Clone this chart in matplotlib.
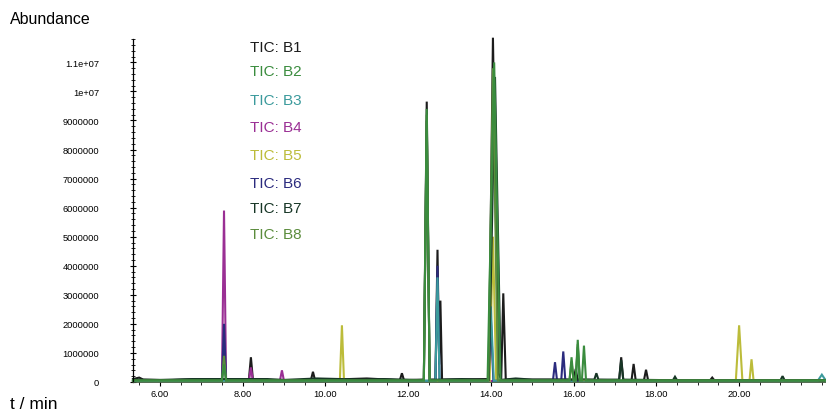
import matplotlib
matplotlib.use("Agg")
import matplotlib.pyplot as plt
from matplotlib.ticker import MultipleLocator, FixedLocator
import numpy as np

plt.rcParams['font.family'] = ['Liberation Sans', 'DejaVu Sans']

# retention time (min) / abundance for each TIC trace
b1_t = [5.35, 5.5, 5.6, 6.2, 7.0, 7.5, 7.55, 7.6, 8.15, 8.2, 8.25, 9.65, 9.7, 9.75, 11.0, 11.8, 11.85, 11.9,
        12.38, 12.45, 12.52, 12.66, 12.71, 12.75, 12.78, 12.82, 13.95, 14.05, 14.18, 14.25, 14.3, 14.36,
        15.0, 16.0, 16.05, 16.1, 17.1, 17.15, 17.2, 17.4, 17.45, 17.5, 17.7, 17.75, 17.8, 19.3, 19.35, 19.4, 22.1]
b1_y = [0.1e6, 0.15e6, 0.08e6, 0.06e6, 0.1e6, 0.08e6, 1.2e6, 0.08e6, 0.06e6, 0.85e6, 0.06e6, 0.06e6, 0.35e6, 0.06e6,
        0.12e6, 0.06e6, 0.3e6, 0.06e6,
        0.08e6, 9.65e6, 0.08e6, 0.08e6, 4.55e6, 0.6e6, 2.8e6, 0.08e6, 0.1e6, 11.85e6, 0.3e6, 0.1e6, 3.05e6, 0.08e6,
        0.08e6, 0.08e6, 0.45e6, 0.08e6, 0.06e6, 0.85e6, 0.06e6, 0.06e6, 0.62e6, 0.06e6, 0.06e6, 0.42e6, 0.06e6,
        0.06e6, 0.15e6, 0.06e6, 0.06e6]

b2_t = [5.35, 7.5, 7.55, 7.6, 12.38, 12.45, 12.52, 13.92, 14.08, 14.23, 15.9, 15.95, 16.0, 16.05, 16.1, 16.15,
        16.2, 16.25, 16.3, 22.1]
b2_y = [0.05e6, 0.05e6, 0.6e6, 0.05e6, 0.05e6, 9.4e6, 0.05e6, 0.05e6, 11.0e6, 0.05e6, 0.05e6, 0.85e6, 0.05e6,
        0.05e6, 1.45e6, 0.05e6, 0.05e6, 1.25e6, 0.05e6, 0.05e6]

b3_t = [5.35, 12.66, 12.71, 12.76, 13.93, 14.0, 14.07, 16.05, 16.1, 16.15, 21.9, 22.0, 22.1]
b3_y = [0.04e6, 0.04e6, 3.6e6, 0.04e6, 0.04e6, 2.6e6, 0.04e6, 0.04e6, 1.2e6, 0.04e6, 0.04e6, 0.25e6, 0.04e6]

b4_t = [5.35, 7.5, 7.55, 7.6, 8.15, 8.2, 8.25, 8.9, 8.95, 9.0, 22.1]
b4_y = [0.03e6, 0.03e6, 5.9e6, 0.03e6, 0.03e6, 0.5e6, 0.03e6, 0.03e6, 0.4e6, 0.03e6, 0.03e6]

b5_t = [5.35, 10.35, 10.4, 10.45, 13.97, 14.05, 14.13, 19.92, 20.0, 20.08, 20.25, 20.3, 20.35, 22.1]
b5_y = [0.03e6, 0.03e6, 1.95e6, 0.03e6, 0.03e6, 5.0e6, 0.03e6, 0.03e6, 1.95e6, 0.03e6, 0.03e6, 0.78e6,
        0.03e6, 0.03e6]

b6_t = [5.35, 7.5, 7.55, 7.6, 12.66, 12.71, 12.76, 13.94, 14.0, 14.06, 15.5, 15.55, 15.6, 15.7, 15.75, 15.8, 22.1]
b6_y = [0.04e6, 0.04e6, 2.0e6, 0.04e6, 0.04e6, 4.0e6, 0.04e6, 0.04e6, 2.2e6, 0.04e6, 0.04e6, 0.68e6, 0.04e6,
        0.04e6, 1.05e6, 0.04e6, 0.04e6]

b7_t = [5.35, 6.0, 6.8, 8.6, 9.0, 9.8, 10.9, 11.4, 12.2, 12.38, 12.45, 12.52, 13.3, 13.95, 14.1, 14.24,
        14.6, 15.0, 16.5, 16.55, 16.6, 17.1, 17.15, 17.2, 18.4, 18.45, 18.5, 21.0, 21.05, 21.1, 22.1]
b7_y = [0.08e6, 0.07e6, 0.1e6, 0.1e6, 0.07e6, 0.12e6, 0.08e6, 0.1e6, 0.07e6, 0.07e6, 9.0e6, 0.07e6, 0.1e6,
        0.07e6, 10.5e6, 0.07e6, 0.12e6, 0.08e6, 0.08e6, 0.3e6, 0.08e6, 0.08e6, 0.75e6, 0.08e6, 0.06e6,
        0.18e6, 0.06e6, 0.06e6, 0.2e6, 0.06e6, 0.06e6]

b8_t = [5.35, 7.5, 7.55, 7.6, 12.38, 12.45, 12.52, 13.94, 14.05, 14.17, 15.9, 15.95, 16.0, 16.05, 16.1,
        16.15, 22.1]
b8_y = [0.05e6, 0.05e6, 0.9e6, 0.05e6, 0.05e6, 9.2e6, 0.05e6, 0.05e6, 10.8e6, 0.05e6, 0.05e6, 0.7e6,
        0.05e6, 0.05e6, 1.3e6, 0.05e6, 0.05e6]

names = ['TIC: B1', 'TIC: B2', 'TIC: B3', 'TIC: B4', 'TIC: B5', 'TIC: B6', 'TIC: B7', 'TIC: B8']
colors = ['#1c1c1c', '#3a8c3e', '#3b9a9c', '#9a2f94', '#bcbc3a', '#2b2b7e', '#173626', '#5b8c3c']
traces = [(b1_t, b1_y), (b2_t, b2_y), (b3_t, b3_y), (b4_t, b4_y),
          (b5_t, b5_y), (b6_t, b6_y), (b7_t, b7_y), (b8_t, b8_y)]

y_ticks = [0, 1e6, 2e6, 3e6, 4e6, 5e6, 6e6, 7e6, 8e6, 9e6, 1e7, 1.1e7]
y_labels = ['0', '1000000', '2000000', '3000000', '4000000', '5000000', '6000000', '7000000',
            '8000000', '9000000', '1e+07', '1.1e+07']
x_ticks = [6, 8, 10, 12, 14, 16, 18, 20]

fig = plt.figure(figsize=(8.26, 4.14), dpi=100)
ax = fig.add_axes([0.161, 0.075, 0.839, 0.828])

order = [0, 3, 4, 5, 2, 6, 7, 1]
for i in order:
    t, y = traces[i]
    ax.plot(t, y, color=colors[i], lw=1.5, solid_joinstyle='miter', clip_on=False)

ax.set_xlim(5.35, 22.1)
ax.set_ylim(0, 11.8e6)

ax.yaxis.set_major_locator(FixedLocator(y_ticks))
ax.set_yticklabels(y_labels)
ax.yaxis.set_minor_locator(MultipleLocator(2e5))
ax.xaxis.set_major_locator(FixedLocator(x_ticks))
ax.set_xticklabels(['%.2f' % v for v in x_ticks])
ax.xaxis.set_minor_locator(MultipleLocator(0.5))

ax.tick_params(axis='y', which='major', direction='inout', length=5, width=0.8, pad=22, labelsize=6.7)
ax.tick_params(axis='y', which='minor', direction='inout', length=3, width=0.6)
ax.tick_params(axis='x', which='major', direction='out', length=3, width=0.8, pad=2, labelsize=6.7)
ax.tick_params(axis='x', which='minor', direction='out', length=2, width=0.6)

for s in ['top', 'right']:
    ax.spines[s].set_visible(False)
ax.spines['left'].set_linewidth(0.9)
ax.spines['bottom'].set_linewidth(0.6)
ax.spines['bottom'].set_color('#3a5a3a')

legend_y = [48, 72, 101, 128, 156, 184, 209, 235]
for name, c, py in zip(names, colors, legend_y):
    fig.text(250 / 826, 1 - py / 414, name, color=c, fontsize=11, va='center', ha='left')

fig.text(10 / 826, 1 - 20 / 414, 'Abundance', fontsize=11.5, va='center', ha='left')
fig.text(10 / 826, 1 - 405 / 414, 't / min', fontsize=12.5, va='center', ha='left')

fig.savefig('out.png', dpi=100)
